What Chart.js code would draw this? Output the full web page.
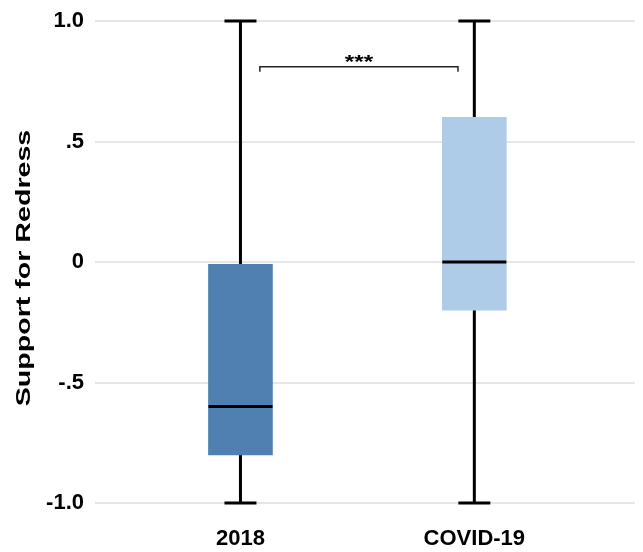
<!DOCTYPE html>
<html>
<head>
<meta charset="utf-8">
<script src="https://cdn.jsdelivr.net/npm/chart.js@4/dist/chart.umd.min.js"></script>
<style>
    html, body { margin: 0; padding: 0; background: #fff; }
    #wrap { width: 643px; height: 552px; }
</style>
</head>
<body>
<div id="wrap"><canvas id="boxChart"></canvas></div>
<script>
// Datos
const categories = ['2018', 'COVID-19'];
const mins = [-1, -1];
const q1s = [-0.8, -0.2];
const medians = [-0.6, 0];
const q3s = [-0.01, 0.6];
const maxs = [1, 1];

const yTicks = [-1, -0.5, 0, 0.5, 1];
const yTickLabels = ['-1.0', '-.5', '0', '.5', '1.0'];
const yTitle = 'Support for Redress';

// Corchete de significancia
const sigLabel = '***';
const sigFrom = 1.083;
const sigTo = 1.93;
const sigY = 0.81;

const FONT = "'Liberation Sans', Arial, Helvetica, sans-serif";
const boxColors = ['#4f80b1', '#aecbe7'];

// Bigotes, medianas, corchete y título del eje Y
const boxPlugin = {
    id: 'boxExtras',
    beforeDatasetsDraw(chart) {
        const { ctx, scales: { x, y } } = chart;
        ctx.save();
        ctx.strokeStyle = '#000';
        ctx.lineWidth = 3;
        categories.forEach((c, i) => {
            const px = x.getPixelForValue(i + 1);
            ctx.beginPath();
            ctx.moveTo(px, y.getPixelForValue(maxs[i]));
            ctx.lineTo(px, y.getPixelForValue(mins[i]));
            ctx.stroke();
        });
        ctx.restore();
    },
    afterDatasetsDraw(chart) {
        const { ctx, scales: { x, y } } = chart;
        const meta = chart.getDatasetMeta(0);
        ctx.save();
        ctx.strokeStyle = '#000';
        ctx.lineWidth = 3;
        categories.forEach((c, i) => {
            const px = x.getPixelForValue(i + 1);
            const bw = meta.data[i].width;
            // mediana
            const my = y.getPixelForValue(medians[i]);
            ctx.beginPath();
            ctx.moveTo(px - bw / 2, my);
            ctx.lineTo(px + bw / 2, my);
            ctx.stroke();
            // topes
            [mins[i], maxs[i]].forEach(v => {
                const vy = y.getPixelForValue(v);
                ctx.beginPath();
                ctx.moveTo(px - bw / 4, vy);
                ctx.lineTo(px + bw / 4, vy);
                ctx.stroke();
            });
        });

        // corchete ***
        const x1 = x.getPixelForValue(sigFrom);
        const x2 = x.getPixelForValue(sigTo);
        const by = y.getPixelForValue(sigY);
        ctx.strokeStyle = '#222';
        ctx.lineWidth = 1.5;
        ctx.beginPath();
        ctx.moveTo(x1, by + 5);
        ctx.lineTo(x1, by);
        ctx.lineTo(x2, by);
        ctx.lineTo(x2, by + 5);
        ctx.stroke();

        ctx.fillStyle = '#000';
        ctx.font = 'bold 18px ' + FONT;
        ctx.textAlign = 'center';
        ctx.textBaseline = 'alphabetic';
        ctx.translate((x1 + x2) / 2, by + 1);
        ctx.scale(1.35, 1);
        ctx.fillText(sigLabel, 0, 0);
        ctx.restore();
    },
    afterDraw(chart) {
        const { ctx } = chart;
        ctx.save();
        ctx.fillStyle = '#000';
        ctx.font = 'bold 20px ' + FONT;
        ctx.textAlign = 'center';
        ctx.textBaseline = 'alphabetic';
        ctx.translate(30, 268);
        ctx.rotate(-Math.PI / 2);
        ctx.scale(1.43, 1);
        ctx.fillText(yTitle, 0, 0);
        ctx.restore();
    }
};

const ctx = document.getElementById('boxChart').getContext('2d');
new Chart(ctx, {
    type: 'bar',
    data: {
        datasets: [{
            data: categories.map((c, i) => ({ x: i + 1, y: [q1s[i], q3s[i]] })),
            backgroundColor: boxColors,
            borderWidth: 0,
            barThickness: 64
        }]
    },
    options: {
        responsive: true,
        maintainAspectRatio: false,
        animation: false,
        layout: { padding: { top: 21, right: 8, left: 0, bottom: 0 } },
        plugins: { legend: { display: false }, tooltip: { enabled: false } },
        scales: {
            x: {
                type: 'linear',
                offset: false,
                min: 0.378,
                max: 2.687,
                grid: { display: false },
                border: { display: false },
                afterBuildTicks: scale => { scale.ticks = categories.map((c, i) => ({ value: i + 1 })); },
                afterFit: scale => { scale.height = 49; scale.paddingLeft = 0; scale.paddingRight = 0; },
                ticks: {
                    padding: 15,
                    color: '#000',
                    font: { family: FONT, size: 22, weight: 'bold' },
                    callback: value => categories[value - 1]
                }
            },
            y: {
                min: -1,
                max: 1,
                grid: { color: '#e6e6e6', lineWidth: 2, drawTicks: false },
                border: { display: false },
                afterBuildTicks: scale => { scale.ticks = yTicks.map(v => ({ value: v })); },
                afterFit: scale => { scale.width = 95; scale.paddingTop = 0; scale.paddingBottom = 0; },
                ticks: {
                    padding: 11,
                    color: '#000',
                    font: { family: FONT, size: 22, weight: 'bold' },
                    callback: value => yTickLabels[yTicks.indexOf(value)]
                }
            }
        }
    },
    plugins: [boxPlugin]
});
</script>
</body>
</html>
